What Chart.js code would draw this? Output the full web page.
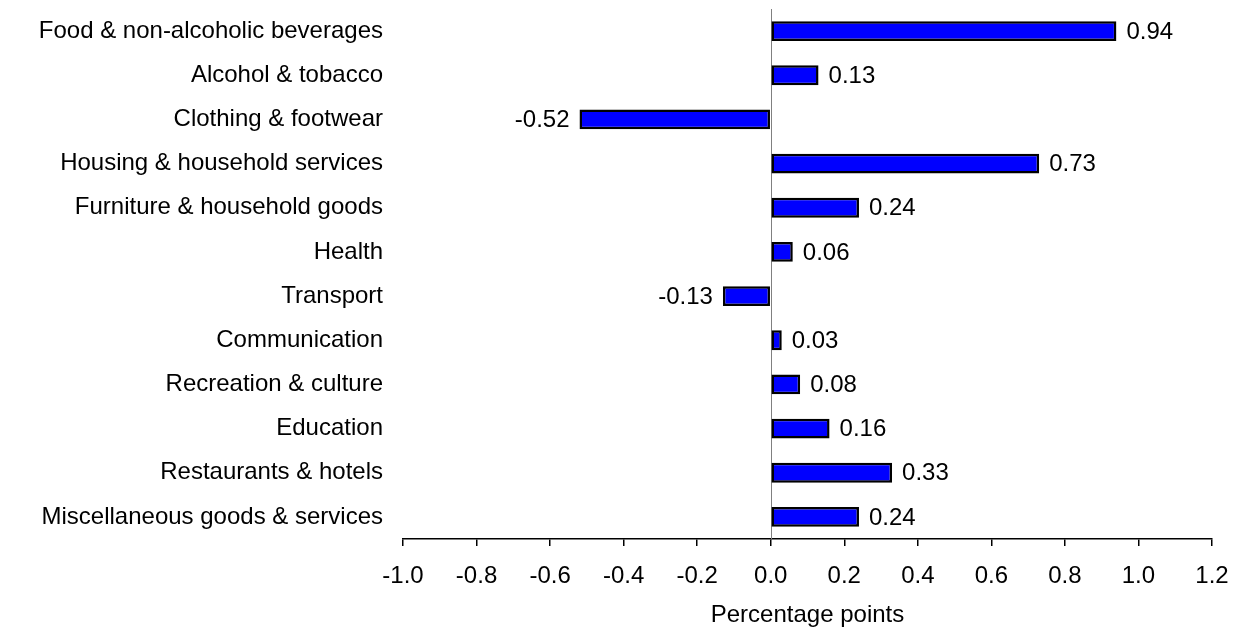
<!DOCTYPE html>
<html>
<head>
<meta charset="utf-8">
<script src="https://cdn.jsdelivr.net/npm/chart.js@4/dist/chart.umd.min.js"></script>
<style>
  body { margin: 0; background: #fff; }
  #wrap { width: 1241px; height: 630px; position: relative; }
</style>
</head>
<body>
<div id="wrap"><canvas id="contribChart"></canvas></div>
<script>
const categorias = [
  "Food & non-alcoholic beverages",
  "Alcohol & tobacco",
  "Clothing & footwear",
  "Housing & household services",
  "Furniture & household goods",
  "Health",
  "Transport",
  "Communication",
  "Recreation & culture",
  "Education",
  "Restaurants & hotels",
  "Miscellaneous goods & services"
];
const valores = [0.94, 0.13, -0.52, 0.73, 0.24, 0.06, -0.13, 0.03, 0.08, 0.16, 0.33, 0.24];
const xTicks = ["-1.0", "-0.8", "-0.6", "-0.4", "-0.2", "0.0", "0.2", "0.4", "0.6", "0.8", "1.0", "1.2"];

const fuente = "'Liberation Sans', Arial, sans-serif";

// linea vertical en cero + etiquetas de valor
const ceroYEtiquetas = {
  id: "ceroYEtiquetas",
  beforeDatasetsDraw(chart) {
    const { ctx, chartArea, scales } = chart;
    const x0 = Math.round(scales.x.getPixelForValue(0)) + 0.5;
    ctx.save();
    ctx.strokeStyle = "#808080";
    ctx.lineWidth = 1;
    ctx.beginPath();
    ctx.moveTo(x0, chartArea.top);
    ctx.lineTo(x0, chartArea.bottom);
    ctx.stroke();
    ctx.restore();
  },
  afterDatasetsDraw(chart) {
    const { ctx } = chart;
    const meta = chart.getDatasetMeta(0);
    ctx.save();
    ctx.font = "24px " + fuente;
    ctx.fillStyle = "#000";
    ctx.textBaseline = "middle";
    meta.data.forEach((bar, i) => {
      const v = valores[i];
      if (v >= 0) {
        ctx.textAlign = "left";
        ctx.fillText(v.toFixed(2), bar.x + 10, bar.y + 1);
      } else {
        ctx.textAlign = "right";
        ctx.fillText(v.toFixed(2), bar.x - 10, bar.y + 1);
      }
    });
    ctx.restore();
  }
};

new Chart(document.getElementById("contribChart"), {
  type: "bar",
  data: {
    labels: categorias,
    datasets: [{
      data: valores,
      backgroundColor: "#0000ff",
      borderColor: "#000000",
      borderWidth: 2.5,
      borderSkipped: false,
      barPercentage: 0.45,
      categoryPercentage: 1
    }]
  },
  options: {
    indexAxis: "y",
    responsive: true,
    maintainAspectRatio: false,
    animation: false,
    layout: { padding: { top: 9, right: 29, left: 0, bottom: 0 } },
    plugins: {
      legend: { display: false },
      tooltip: { enabled: false }
    },
    scales: {
      x: {
        min: -1,
        max: 1.2,
        afterFit(scale) {
          scale.height = 91;
          scale.paddingLeft = 0;
          scale.paddingRight = 0;
        },
        afterBuildTicks(scale) {
          scale.ticks = xTicks.map(t => ({ value: parseFloat(t) }));
        },
        ticks: {
          autoSkip: false,
          maxRotation: 0,
          padding: 16,
          color: "#000",
          font: { family: fuente, size: 24 },
          callback: (v, i) => xTicks[i]
        },
        grid: {
          display: true,
          drawOnChartArea: false,
          drawTicks: true,
          tickLength: 7,
          color: "#000",
          lineWidth: 1.5
        },
        border: { display: true, color: "#000", width: 1.5 },
        title: {
          display: true,
          text: "Percentage points",
          color: "#000",
          font: { family: fuente, size: 24 },
          padding: { top: 0, bottom: 0 }
        }
      },
      y: {
        afterFit(scale) {
          scale.width = 403;
          scale.paddingTop = 0;
          scale.paddingBottom = 0;
        },
        ticks: {
          padding: 20,
          color: "#000",
          font: { family: fuente, size: 24 }
        },
        grid: { display: false, drawTicks: false },
        border: { display: false }
      }
    }
  },
  plugins: [ceroYEtiquetas]
});
</script>
</body>
</html>
